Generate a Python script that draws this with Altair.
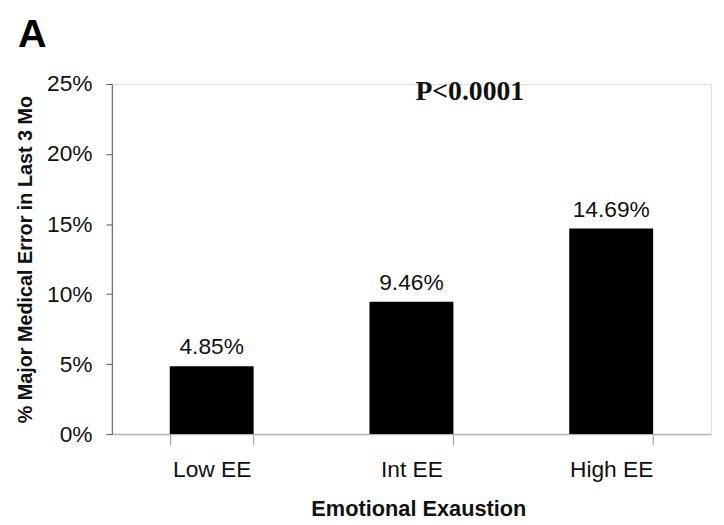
import altair as alt
import pandas as pd

categories = ["Low EE", "Int EE", "High EE"]
values = [0.0485, 0.0946, 0.1469]
y_ticks = [0.0, 0.05, 0.10, 0.15, 0.20, 0.25]
p_text = ["P<0.0001"]
panel_letter = ["A"]

df = pd.DataFrame({"cat": categories, "val": values})

W, H = 606, 354
FONT = "Liberation Sans"

x_enc = alt.X(
    "cat:N",
    sort=categories,
    scale=alt.Scale(paddingInner=0.58, paddingOuter=0.29),
    axis=alt.Axis(
        title="Emotional Exaustion",
        titleFont=FONT, titleFontSize=22, titleFontWeight="bold", titleColor="#111",
        titleX=310, titleY=82, titleBaseline="alphabetic",
        labelFont=FONT, labelFontSize=23, labelColor="#111", labelAngle=0,
        labelBaseline="alphabetic", labelPadding=32,
        tickBand="extent", tickSize=11, tickColor="#999", tickWidth=1,
        domainColor="#b5b5b5", domainWidth=1.5, grid=False,
    ),
)

y_enc = alt.Y(
    "val:Q",
    scale=alt.Scale(domain=[0, 0.25], nice=False),
    axis=alt.Axis(
        title="% Major Medical Error in Last 3 Mo",
        titleFont=FONT, titleFontSize=20, titleFontWeight="bold", titleColor="#111",
        titleX=-87, titleY=H / 2, titleBaseline="middle", titleAngle=-90,
        labelFont=FONT, labelFontSize=23, labelColor="#111",
        labelPadding=14, values=y_ticks, format=".0%",
        tickSize=6, tickColor="#555", domainColor="#555", grid=False,
    ),
)

base = alt.Chart(df)

bars = base.mark_bar(color="black").encode(x=x_enc, y=y_enc)

labels = base.mark_text(
    font=FONT, fontSize=23, color="#111", baseline="alphabetic", dy=-12
).encode(
    x=alt.X("cat:N", sort=categories),
    y="val:Q",
    text=alt.Text("val:Q", format=".2%"),
)

ptxt = alt.Chart(pd.DataFrame({"t": p_text})).mark_text(
    font="Liberation Serif", fontSize=28, fontWeight="bold", color="#111",
    align="center", baseline="alphabetic",
).encode(x=alt.value(362), y=alt.value(16), text="t:N")

letter = alt.Chart(pd.DataFrame({"t": panel_letter})).mark_text(
    font=FONT, fontSize=40, fontWeight="bold", color="black",
    align="left", baseline="alphabetic",
).encode(x=alt.value(-95), y=alt.value(-37), text="t:N")

chart = alt.layer(bars, labels, ptxt, letter).properties(
    width=W, height=H,
    autosize=alt.AutoSizeParams(type="none"),
    padding={"left": 105, "top": 74, "right": 5, "bottom": 90},
).configure_view(stroke=None).configure(background="white")

chart.save("out.html", embed_options={"renderer": "svg", "actions": False})
